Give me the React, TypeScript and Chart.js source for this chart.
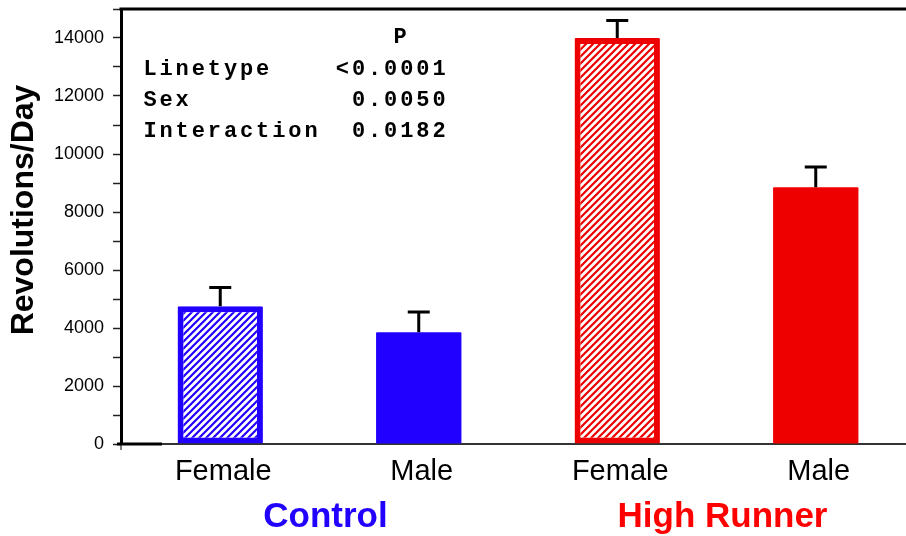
import React, { useEffect, useRef } from "react";
import { Chart, registerables } from "chart.js";

Chart.register(...registerables);

const categories = ["Female", "Male", "Female", "Male"];
const groups = ["Control", "High Runner"];
const groupColors = ["#2200ff", "#ff0000"];
const barColors = ["#2200ff", "#2200ff", "#ee0000", "#ee0000"];
const hatched = [true, false, true, false];
const means = [4750, 3850, 14000, 8850];
const sems = [650, 700, 600, 700];
const yMax = 15000;
const yLabelStep = 2000;
const yMinorStep = 1000;
const yTitle = "Revolutions/Day";
const statHeader = "P";
const statNames = ["Linetype", "Sex", "Interaction"];
const statValues = ["<0.0001", "0.0050", "0.0182"];

const SANS = '"Liberation Sans", Arial, sans-serif';
const MONO = '"Liberation Mono", "Courier New", monospace';

function makeHatch(ctx: CanvasRenderingContext2D, color: string) {
  const s = 7;
  const c = document.createElement("canvas");
  c.width = s;
  c.height = s;
  const g = c.getContext("2d")!;
  g.fillStyle = "#ffffff";
  g.fillRect(0, 0, s, s);
  g.strokeStyle = color;
  g.lineWidth = 2.2;
  g.beginPath();
  g.moveTo(-1, s + 1);
  g.lineTo(s + 1, -1);
  g.moveTo(-s / 2 - 1, s / 2 + 1);
  g.lineTo(s / 2 + 1, -s / 2 - 1);
  g.moveTo(s / 2 - 1, s * 1.5 + 1);
  g.lineTo(s * 1.5 + 1, s / 2 - 1);
  g.stroke();
  return ctx.createPattern(c, "repeat")!;
}

const decorPlugin = {
  id: "decor",
  afterDatasetsDraw(chart: any) {
    const { ctx, scales } = chart;
    const x = scales.x;
    const y = scales.y;
    ctx.save();
    ctx.strokeStyle = "#000";
    ctx.lineWidth = 3;
    ctx.lineCap = "butt";
    means.forEach((m, i) => {
      const cx = x.getPixelForValue(i);
      const yTop = y.getPixelForValue(m);
      const yErr = y.getPixelForValue(m + sems[i]);
      ctx.beginPath();
      ctx.moveTo(cx, yTop);
      ctx.lineTo(cx, yErr);
      ctx.moveTo(cx - 11, yErr);
      ctx.lineTo(cx + 11, yErr);
      ctx.stroke();
    });
    ctx.restore();
  },
  afterDraw(chart: any) {
    const { ctx, chartArea, scales } = chart;
    const x = scales.x;
    const y = scales.y;
    ctx.save();
    ctx.fillStyle = "#000";
    ctx.fillRect(chartArea.left - 1.5, chartArea.top - 1.5, chart.width, 3);
    const y0 = y.getPixelForValue(0);
    ctx.fillRect(chartArea.left - 4, y0 - 1.5, 45, 3);
    ctx.fillRect(chartArea.left - 0.5, y0, 1, 6);

    ctx.save();
    ctx.translate(24, 210);
    ctx.rotate(-Math.PI / 2);
    ctx.font = `bold 32px ${SANS}`;
    ctx.textAlign = "center";
    ctx.textBaseline = "middle";
    ctx.fillStyle = "#000";
    ctx.fillText(yTitle, 0, 0);
    ctx.restore();

    ctx.font = `29px ${SANS}`;
    ctx.textAlign = "center";
    ctx.textBaseline = "alphabetic";
    ctx.fillStyle = "#000";
    categories.forEach((c, i) => {
      ctx.fillText(c, x.getPixelForValue(i) + 3, 480);
    });

    ctx.font = `bold 35px ${SANS}`;
    groups.forEach((g, gi) => {
      const cx = (x.getPixelForValue(gi * 2) + x.getPixelForValue(gi * 2 + 1)) / 2 + 6;
      ctx.fillStyle = groupColors[gi];
      ctx.fillText(g, cx, 527);
    });

    const pitch = 16.1;
    ctx.font = `bold 22px ${MONO}`;
    ctx.fillStyle = "#000";
    ctx.textAlign = "center";
    const drawLeft = (s: string, left: number, base: number) => {
      for (let k = 0; k < s.length; k++) ctx.fillText(s[k], left + k * pitch, base);
    };
    const drawRight = (s: string, right: number, base: number) => {
      for (let k = 0; k < s.length; k++)
        ctx.fillText(s[k], right - (s.length - 1 - k) * pitch, base);
    };
    drawRight(statHeader, 400, 43);
    const baselines = [75, 106, 137];
    statNames.forEach((n, i) => {
      drawLeft(n, 150, baselines[i]);
      drawRight(statValues[i], 439, baselines[i]);
    });
    ctx.restore();
  },
};

export default function App() {
  const ref = useRef<HTMLCanvasElement>(null);
  useEffect(() => {
    const canvas = ref.current!;
    const ctx = canvas.getContext("2d")!;
    const bg = barColors.map((c, i) => (hatched[i] ? makeHatch(ctx, c) : c));
    const chart = new Chart(canvas, {
      type: "bar",
      data: {
        labels: categories,
        datasets: [
          {
            data: means,
            backgroundColor: bg as any,
            borderColor: barColors,
            borderWidth: hatched.map((h) => (h ? 6 : 0)),
            borderSkipped: false,
            borderRadius: 1,
            barPercentage: 0.43,
            categoryPercentage: 1,
          },
        ],
      },
      options: {
        animation: false,
        responsive: false,
        layout: { padding: { top: 9, left: 0, right: 0, bottom: 0 } },
        plugins: { legend: { display: false }, tooltip: { enabled: false } },
        scales: {
          x: {
            grid: { display: false },
            border: { display: true, color: "#333", width: 2 },
            ticks: { display: false },
            afterFit: (s: any) => {
              s.height = 92;
              s.paddingLeft = 0;
              s.paddingRight = 0;
            },
          },
          y: {
            min: 0,
            max: yMax,
            grid: {
              display: true,
              drawOnChartArea: false,
              drawTicks: true,
              tickLength: 8,
              tickWidth: 1.5,
              tickColor: "#222",
            },
            border: { display: true, color: "#000", width: 3 },
            ticks: {
              stepSize: yMinorStep,
              padding: 9,
              color: "#000",
              font: { family: SANS, size: 18 },
              callback: (v: any) => (Number(v) % yLabelStep === 0 && Number(v) < yMax ? String(v) : ""),
            },
            afterFit: (s: any) => {
              s.width = 121;
              s.paddingTop = 0;
              s.paddingBottom = 0;
            },
          },
        },
      },
      plugins: [decorPlugin],
    });
    return () => chart.destroy();
  }, []);
  return (
    <div
      style={{
        position: "fixed",
        left: 0,
        top: 0,
        width: 906,
        height: 536,
        overflow: "hidden",
        background: "#fff",
      }}
    >
      <canvas ref={ref} width={915} height={536} style={{ display: "block" }} />
    </div>
  );
}
